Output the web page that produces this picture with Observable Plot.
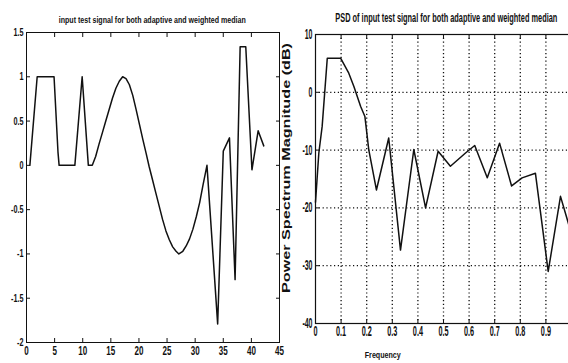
<!DOCTYPE html>
<html><head><meta charset="utf-8">
<script src="https://cdn.jsdelivr.net/npm/d3@7"></script>
<script src="https://cdn.jsdelivr.net/npm/@observablehq/plot@0.6"></script>
<style>
html,body{margin:0;padding:0;background:#fff;}
#wrap{position:relative;width:568px;height:363px;overflow:hidden;background:#fff;}
#wrap svg{position:absolute;top:0;max-width:none;background:transparent;}
.t{position:absolute;white-space:nowrap;font-weight:bold;color:#111;line-height:1;transform-origin:50% 50%;}
</style></head>
<body><div id="wrap"></div>
<script>
// ---- Left panel: input test signal ----
const sigT = [0.6, 1.9, 4.9, 5.6, 5.8, 8.6, 9.9, 11.0, 11.7, 12.3, 12.9, 13.5, 14.1, 14.7, 15.3, 15.9, 16.5, 17.1, 17.7, 18.3, 18.9, 19.5, 20.1, 20.7, 21.3, 21.8, 22.4, 23.0, 23.6, 24.2, 24.8, 25.4, 26.0, 26.6, 27.1, 27.8, 28.4, 29.0, 29.6, 30.2, 30.8, 31.4, 32.1, 34.0, 35.0, 36.1, 37.1, 38.0, 39.0, 40.1, 41.2, 42.2];
const sigV = [0, 1, 1, 0.15, 0, 0, 1, 0, 0, 0.1, 0.24, 0.37, 0.5, 0.63, 0.76, 0.87, 0.95, 1.0, 0.98, 0.91, 0.79, 0.63, 0.46, 0.29, 0.13, -0.01, -0.16, -0.31, -0.46, -0.61, -0.74, -0.84, -0.92, -0.97, -1.0, -0.97, -0.91, -0.83, -0.72, -0.58, -0.42, -0.22, 0, -1.79, 0.16, 0.31, -1.29, 1.34, 1.34, -0.05, 0.39, 0.22];
const leftXTicks = [0, 5, 10, 15, 20, 25, 30, 35, 40, 45];
const leftYTicks = [1.5, 1, 0.5, 0, -0.5, -1, -1.5, -2];

// ---- Right panel: PSD ----
const psdF = [0, 0.013, 0.026, 0.046, 0.098, 0.130, 0.150, 0.176, 0.193, 0.208, 0.238, 0.286, 0.332, 0.384, 0.430, 0.479, 0.527, 0.586, 0.622, 0.671, 0.719, 0.766, 0.807, 0.859, 0.909, 0.957, 1.0];
const psdDb = [-19, -10.5, -5.9, 5.9, 5.9, 3.3, 1.0, -2.4, -4.2, -9.9, -16.9, -7.9, -27.3, -9.9, -20.0, -10.2, -12.8, -10.5, -9.2, -14.8, -8.8, -16.2, -14.8, -14.0, -31.0, -18.0, -24.5];
const rightXTicks = [0, 0.1, 0.2, 0.3, 0.4, 0.5, 0.6, 0.7, 0.8, 0.9];
const rightYTicks = [10, 0, -10, -20, -30, -40];
const gridXVals = [0.1, 0.2, 0.3, 0.4, 0.5, 0.6, 0.7, 0.8, 0.9];
const gridYVals = [0, -10, -20, -30];

const leftTitle = "input test signal for both adaptive and weighted median";
const rightTitle = "PSD of input test signal for both adaptive and weighted median";
const rightXLabel = "Frequency";
const rightYLabel = "Power Spectrum Magnitude (dB)";

const sig = sigT.map((t, i) => ({t, v: sigV[i]}));
const psd = psdF.map((f, i) => ({f, db: psdDb[i]}));
const sans = '"Liberation Sans",Arial,sans-serif';
const ink = "#111";
const fmt = d => String(d);
const blank = () => "";

function squeeze(svg, axis, sx) {
  d3.select(svg).selectAll(`g[aria-label="${axis}-axis tick label"] text`).each(function () {
    const t = this.getAttribute("transform") || "";
    this.setAttribute("transform", t + ` scale(${sx},1)`);
  });
}

const left = Plot.plot({
  width: 290, height: 363,
  marginLeft: 26, marginRight: 11, marginTop: 32, marginBottom: 21,
  x: {domain: [0, 45]},
  y: {domain: [-2, 1.5]},
  style: {fontFamily: sans, fontWeight: "bold", background: "transparent", color: ink},
  marks: [
    Plot.frame({stroke: ink, strokeWidth: 1}),
    Plot.axisX(leftXTicks, {anchor: "bottom", tickSize: 0, tickPadding: 3, fontSize: 13, tickFormat: fmt, label: null}),
    Plot.axisX(leftXTicks, {anchor: "bottom", tickSize: -4, tickFormat: blank, label: null}),
    Plot.axisX(leftXTicks, {anchor: "top", tickSize: -4, tickFormat: blank, label: null}),
    Plot.axisY(leftYTicks, {anchor: "left", tickSize: 0, tickPadding: 3, fontSize: 11, tickFormat: fmt, label: null}),
    Plot.axisY(leftYTicks, {anchor: "left", tickSize: -4, tickFormat: blank, label: null}),
    Plot.axisY(leftYTicks, {anchor: "right", tickSize: -4, tickFormat: blank, label: null}),
    Plot.line(sig, {x: "t", y: "v", stroke: ink, strokeWidth: 1.5})
  ]
});
left.style.left = "0px";
squeeze(left, "x", 0.62);
squeeze(left, "y", 0.66);

const gridStyle = {stroke: ink, strokeOpacity: 1, strokeWidth: 1.3, strokeDasharray: "1.2,2.6"};
const right = Plot.plot({
  width: 300, height: 363,
  marginLeft: 35, marginRight: 9, marginTop: 34, marginBottom: 40,
  x: {domain: [0, 1]},
  y: {domain: [-40, 10]},
  style: {fontFamily: sans, fontWeight: "bold", background: "transparent", color: ink},
  marks: [
    Plot.gridX(gridXVals, gridStyle),
    Plot.gridY(gridYVals, gridStyle),
    Plot.frame({stroke: ink, strokeWidth: 1.2}),
    Plot.axisX(rightXTicks, {anchor: "bottom", tickSize: 0, tickPadding: 3, fontSize: 14, tickFormat: fmt, label: null}),
    Plot.axisX(rightXTicks, {anchor: "bottom", tickSize: -4, tickFormat: blank, label: null}),
    Plot.axisX(rightXTicks, {anchor: "top", tickSize: -4, tickFormat: blank, label: null}),
    Plot.axisY(rightYTicks, {anchor: "left", tickSize: 0, tickPadding: 3, fontSize: 14, tickFormat: fmt, label: null}),
    Plot.axisY(rightYTicks, {anchor: "left", tickSize: -4, tickFormat: blank, label: null}),
    Plot.line(psd, {x: "f", y: "db", stroke: ink, strokeWidth: 1.5})
  ]
});
right.style.left = "280px";
squeeze(right, "x", 0.52);
squeeze(right, "y", 0.5);

const wrap = document.getElementById("wrap");
wrap.appendChild(left);
wrap.appendChild(right);

function placeText(str, {cx, cy, width, size, family, rotate = 0}) {
  const d = document.createElement("div");
  d.className = "t";
  d.textContent = str;
  d.style.fontSize = size + "px";
  d.style.fontFamily = family;
  wrap.appendChild(d);
  const r = d.getBoundingClientRect();
  const w = r.width, h = r.height;
  d.style.left = (cx - w / 2) + "px";
  d.style.top = (cy - h / 2) + "px";
  const sx = width ? width / w : 1;
  d.style.transform = `rotate(${rotate}deg) scaleX(${sx})`;
}

placeText(leftTitle, {cx: 152, cy: 20, width: 187, size: 9, family: sans});
placeText(rightTitle, {cx: 446, cy: 18, width: 222, size: 12, family: sans});
placeText(rightXLabel, {cx: 383, cy: 355, width: 36, size: 9, family: sans});
placeText(rightYLabel, {cx: 287, cy: 168, width: 250, size: 10, family: sans, rotate: -90});
</script>
</body></html>
